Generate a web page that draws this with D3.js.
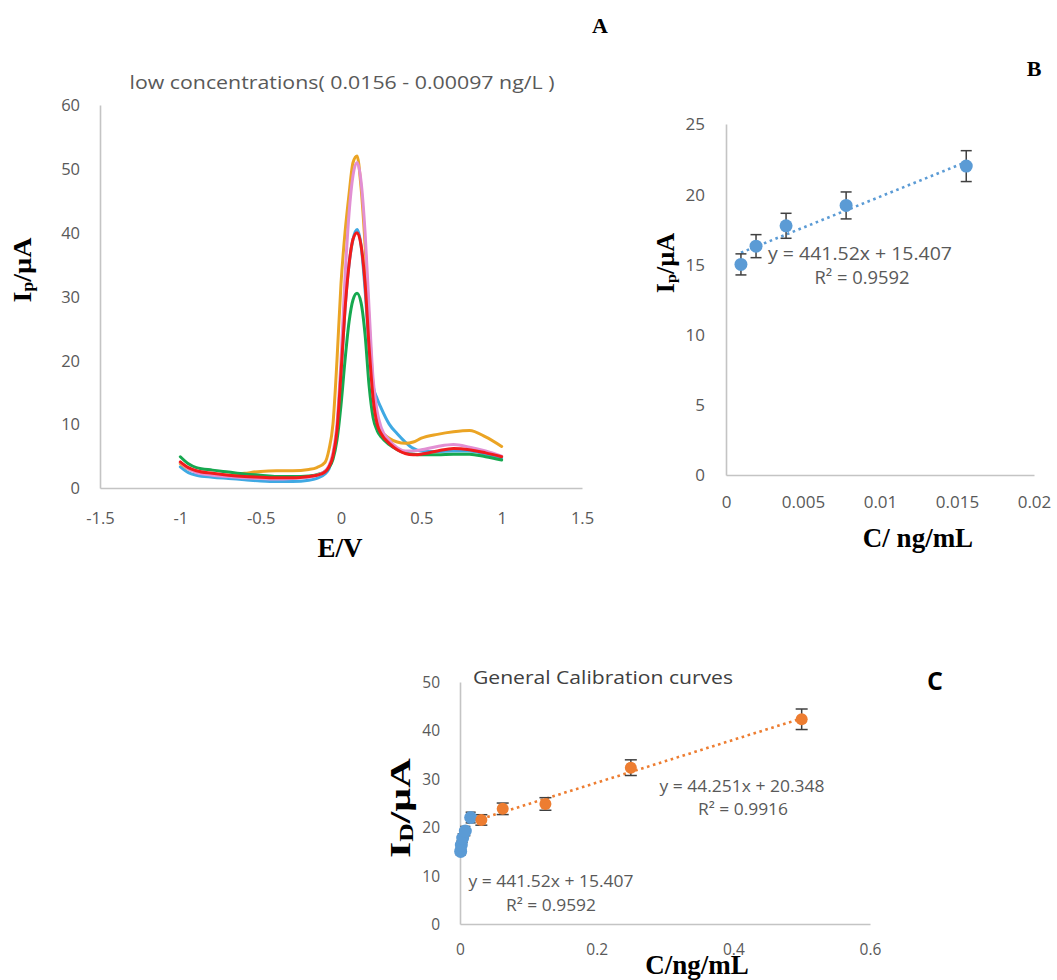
<!DOCTYPE html>
<html>
<head>
<meta charset="utf-8">
<script src="https://cdn.jsdelivr.net/npm/d3@7/dist/d3.min.js"></script>
<style>
  html, body { margin: 0; padding: 0; background: #fff; }
  svg { display: block; }
  .tick text { font-family: "Open Sans", sans-serif; fill: #595959; }
</style>
</head>
<body>
<svg id="chart" width="1057" height="980"></svg>
<script>
// ---------- Panel A: voltammograms ----------
const potentialE = [-1, -0.95, -0.9, -0.8, -0.7, -0.6, -0.5, -0.4, -0.3, -0.2, -0.15, -0.1, -0.075, -0.05, -0.025, 0, 0.025, 0.05, 0.075, 0.1, 0.125, 0.15, 0.175, 0.2, 0.225, 0.25, 0.3, 0.35, 0.4, 0.45, 0.5, 0.6, 0.7, 0.8, 0.9, 1.0];
const curveBlue   = [3.3, 2.4, 2.0, 1.7, 1.5, 1.3, 1.1, 1.0, 1.0, 1.2, 1.5, 2.2, 3.0, 5.0, 9, 18, 28, 35, 39, 40.5, 38, 31, 22, 16, 14, 12.5, 10, 8.5, 7.2, 6.2, 5.8, 5.7, 5.8, 5.8, 5.3, 4.7];
const curveOrange = [3.8, 3.0, 2.6, 2.2, 2.0, 2.3, 2.6, 2.7, 2.7, 2.9, 3.2, 4.0, 6.0, 10, 20, 32, 40, 46, 51, 52, 47, 38, 26, 16, 11, 9, 7.8, 7.2, 7.0, 7.2, 7.8, 8.4, 8.8, 9.0, 8.0, 6.5];
const curveGreen  = [4.9, 3.8, 3.2, 2.8, 2.5, 2.2, 2.0, 1.8, 1.8, 1.9, 2.1, 2.6, 3.2, 4.5, 7.5, 13, 20, 26, 29.5, 30.5, 29, 24, 16, 11, 9, 8, 6.8, 6.0, 5.5, 5.3, 5.2, 5.2, 5.3, 5.3, 4.9, 4.4];
const curvePink   = [4.0, 3.0, 2.4, 2.0, 1.8, 1.6, 1.5, 1.4, 1.5, 1.7, 2.0, 2.6, 3.5, 5.5, 10, 20, 33, 43, 49, 51, 48, 40, 28, 17, 12, 9.5, 7.5, 6.3, 5.8, 5.8, 6.0, 6.5, 6.8, 6.4, 5.8, 5.0];
const curveRed    = [4.1, 3.2, 2.7, 2.3, 2.0, 1.8, 1.7, 1.6, 1.6, 1.8, 2.0, 2.5, 3.3, 5.0, 9, 18, 28, 35, 39, 40, 38, 32, 22, 14, 10, 8.5, 7.0, 6.0, 5.4, 5.2, 5.3, 5.8, 6.2, 6.0, 5.5, 4.9];
const aTicksX = [-1.5, -1, -0.5, 0, 0.5, 1, 1.5];
const aTicksY = [0, 10, 20, 30, 40, 50, 60];

// ---------- Panel B / C: calibration ----------
const lowConc = [0.00097, 0.00195, 0.0039, 0.0078, 0.0156];
const lowIp   = [15.0, 16.3, 17.75, 19.2, 22.0];
const lowErr  = [0.75, 0.82, 0.89, 0.96, 1.1];
const lowSlope = 441.52, lowIntercept = 15.407;

const highConc = [0.03125, 0.0625, 0.125, 0.25, 0.5];
const highIp   = [21.5, 23.8, 24.8, 32.3, 42.3];
const highErr  = [1.08, 1.19, 1.3, 1.62, 2.12];
const highSlope = 44.251, highIntercept = 20.348;

const bTicksX = [0, 0.005, 0.01, 0.015, 0.02];
const bTicksY = [0, 5, 10, 15, 20, 25];
const cTicksX = [0, 0.2, 0.4, 0.6];
const cTicksY = [0, 10, 20, 30, 40, 50];

const svg = d3.select('#chart');
svg.append('rect').attr('width', 1057).attr('height', 980).attr('fill', '#fff');

const AXIS = '#c4c4c4';
const TXT = '#595959';
const BLUE = '#5B9BD5', ORANGE = '#ED7D31';

function axes(x, y, xt, yt, xPad, yPad, fs) {
  const xr = x.range(), yr = y.range();
  const gx = svg.append('g').attr('transform', `translate(0,${yr[0]})`)
    .call(d3.axisBottom(x).tickValues(xt).tickSize(0).tickSizeOuter(0).tickFormat(d => String(d)));
  const gy = svg.append('g').attr('transform', `translate(${xr[0]},0)`)
    .call(d3.axisLeft(y).tickValues(yt).tickSize(0).tickSizeOuter(0).tickFormat(d => String(d)));
  [gx, gy].forEach(g => {
    g.select('.domain').attr('stroke', AXIS).attr('stroke-width', 1.6);
    g.selectAll('text').style('font-size', fs + 'px').attr('fill', TXT);
  });
  gx.selectAll('text').attr('y', xPad).attr('dy', '0.35em');
  gy.selectAll('text').attr('x', -yPad).attr('dy', '0.35em');
}

function serifLabel(x, y, size, parts, rotate, stretch) {
  const t = svg.append('text')
    .attr('transform', `translate(${x},${y})` + (rotate ? ' rotate(-90)' : '') + (stretch ? ` scale(${stretch},1)` : ''))
    .attr('text-anchor', 'middle').attr('dominant-baseline', 'central')
    .style('font-family', '"Liberation Serif", "Times New Roman", serif')
    .style('font-weight', 'bold').style('font-size', size + 'px').attr('fill', '#000');
  parts.forEach(p => {
    const s = t.append('tspan').text(p.t);
    if (p.sub) s.style('font-size', (size * 0.62) + 'px').attr('dy', size * 0.22);
    if (p.back) s.attr('dy', -size * 0.22);
  });
  return t;
}

function plainText(x, y, size, txt, anchor, color, weight, width) {
  const t = svg.append('text').attr('x', x).attr('y', y)
    .attr('text-anchor', anchor || 'middle').attr('dominant-baseline', 'central')
    .style('font-family', '"Open Sans", sans-serif').style('font-size', size + 'px')
    .style('font-weight', weight || 'normal')
    .attr('fill', color || TXT).text(txt);
  if (width) t.attr('textLength', width).attr('lengthAdjust', 'spacingAndGlyphs');
  return t;
}

// ===== Panel A =====
const xA = d3.scaleLinear().domain([-1.5, 1.5]).range([100, 582]);
const yA = d3.scaleLinear().domain([0, 60]).range([488, 105]);
axes(xA, yA, aTicksX, aTicksY, 30, 20, 16.5);

const lineA = d3.line().x((d, i) => xA(potentialE[i])).y(d => yA(d)).curve(d3.curveMonotoneX);
const seriesA = [
  { v: curveBlue, c: '#3FA9E3' },
  { v: curveOrange, c: '#EBA424' },
  { v: curveGreen, c: '#16A84F' },
  { v: curvePink, c: '#E28FD3' },
  { v: curveRed, c: '#F21B1B' }
];
seriesA.forEach(s => {
  svg.append('path').attr('d', lineA(s.v)).attr('fill', 'none')
    .attr('stroke', s.c).attr('stroke-width', 3).attr('stroke-linejoin', 'round').attr('stroke-linecap', 'round');
});
plainText(342, 82, 18, 'low concentrations( 0.0156 - 0.00097 ng/L )', 'middle', TXT, 'normal', 425);
serifLabel(340, 548, 27, [{ t: 'E/V' }]);
serifLabel(22, 270, 26, [{ t: 'I' }, { t: 'p', sub: true }, { t: '/µA', back: true }], true, 1.08);
serifLabel(600, 25, 22, [{ t: 'A' }]);

// ===== Panel B =====
const xB = d3.scaleLinear().domain([0, 0.02]).range([726, 1034]);
const yB = d3.scaleLinear().domain([0, 25]).range([475, 124]);
axes(xB, yB, bTicksX, bTicksY, 27, 21, 17);

function errorBars(x, y, xs, ys, es, cap) {
  const g = svg.append('g').attr('stroke', '#404040').attr('stroke-width', 1.5);
  xs.forEach((cx, i) => {
    const px = x(cx), top = y(ys[i] + es[i]), bot = y(ys[i] - es[i]);
    g.append('line').attr('x1', px).attr('x2', px).attr('y1', top).attr('y2', bot);
    g.append('line').attr('x1', px - cap).attr('x2', px + cap).attr('y1', top).attr('y2', top);
    g.append('line').attr('x1', px - cap).attr('x2', px + cap).attr('y1', bot).attr('y2', bot);
  });
}
function trend(x, y, slope, icpt, x0, x1, color) {
  svg.append('line').attr('x1', x(x0)).attr('y1', y(slope * x0 + icpt))
    .attr('x2', x(x1)).attr('y2', y(slope * x1 + icpt))
    .attr('stroke', color).attr('stroke-width', 2.6).attr('stroke-dasharray', '2.6,3.6');
}
function markers(x, y, xs, ys, r, color) {
  svg.append('g').selectAll('circle').data(xs).join('circle')
    .attr('cx', d => x(d)).attr('cy', (d, i) => y(ys[i])).attr('r', r).attr('fill', color);
}

trend(xB, yB, lowSlope, lowIntercept, d3.min(lowConc), d3.max(lowConc), BLUE);
errorBars(xB, yB, lowConc, lowIp, lowErr, 5.5);
markers(xB, yB, lowConc, lowIp, 6.5, BLUE);
plainText(860, 253, 18, 'y = 441.52x + 15.407', 'middle', TXT, 'normal', 184);
plainText(862, 277, 18, 'R² = 0.9592', 'middle', TXT, 'normal', 95);
serifLabel(918, 538, 27, [{ t: 'C/ ng/mL' }]);
serifLabel(665, 263, 25, [{ t: 'I' }, { t: 'p', sub: true }, { t: '/µA', back: true }], true, 1.05);
serifLabel(1034, 68, 22, [{ t: 'B' }]);

// ===== Panel C =====
const xC = d3.scaleLinear().domain([0, 0.6]).range([460, 870]);
const yC = d3.scaleLinear().domain([0, 50]).range([924, 682]);
axes(xC, yC, cTicksX, cTicksY, 26, 20, 15.5);

trend(xC, yC, highSlope, highIntercept, d3.min(highConc), d3.max(highConc), ORANGE);
trend(xC, yC, lowSlope, lowIntercept, d3.min(lowConc), d3.max(lowConc), BLUE);
errorBars(xC, yC, lowConc, lowIp, lowErr, 5);
errorBars(xC, yC, highConc, highIp, highErr, 6);
markers(xC, yC, lowConc, lowIp, 6.5, BLUE);
markers(xC, yC, highConc, highIp, 6, ORANGE);

plainText(473, 677, 18, 'General Calibration curves', 'start', '#404040', 'normal', 260);
plainText(742, 785, 17, 'y = 44.251x + 20.348', 'middle', TXT, 'normal', 165);
plainText(743, 808, 17, 'R² = 0.9916', 'middle', TXT, 'normal', 90);
plainText(551, 880, 17, 'y = 441.52x + 15.407', 'middle', TXT, 'normal', 165);
plainText(551, 904, 17, 'R² = 0.9592', 'middle', TXT, 'normal', 90);
serifLabel(697, 965, 27, [{ t: 'C/ng/mL' }]);
serifLabel(400, 808, 30, [{ t: 'I' }, { t: 'D', sub: true }, { t: '/µA', back: true }], true, 1.38);
plainText(935, 680, 25, 'C', 'middle', '#000', 'bold');
</script>
</body>
</html>
